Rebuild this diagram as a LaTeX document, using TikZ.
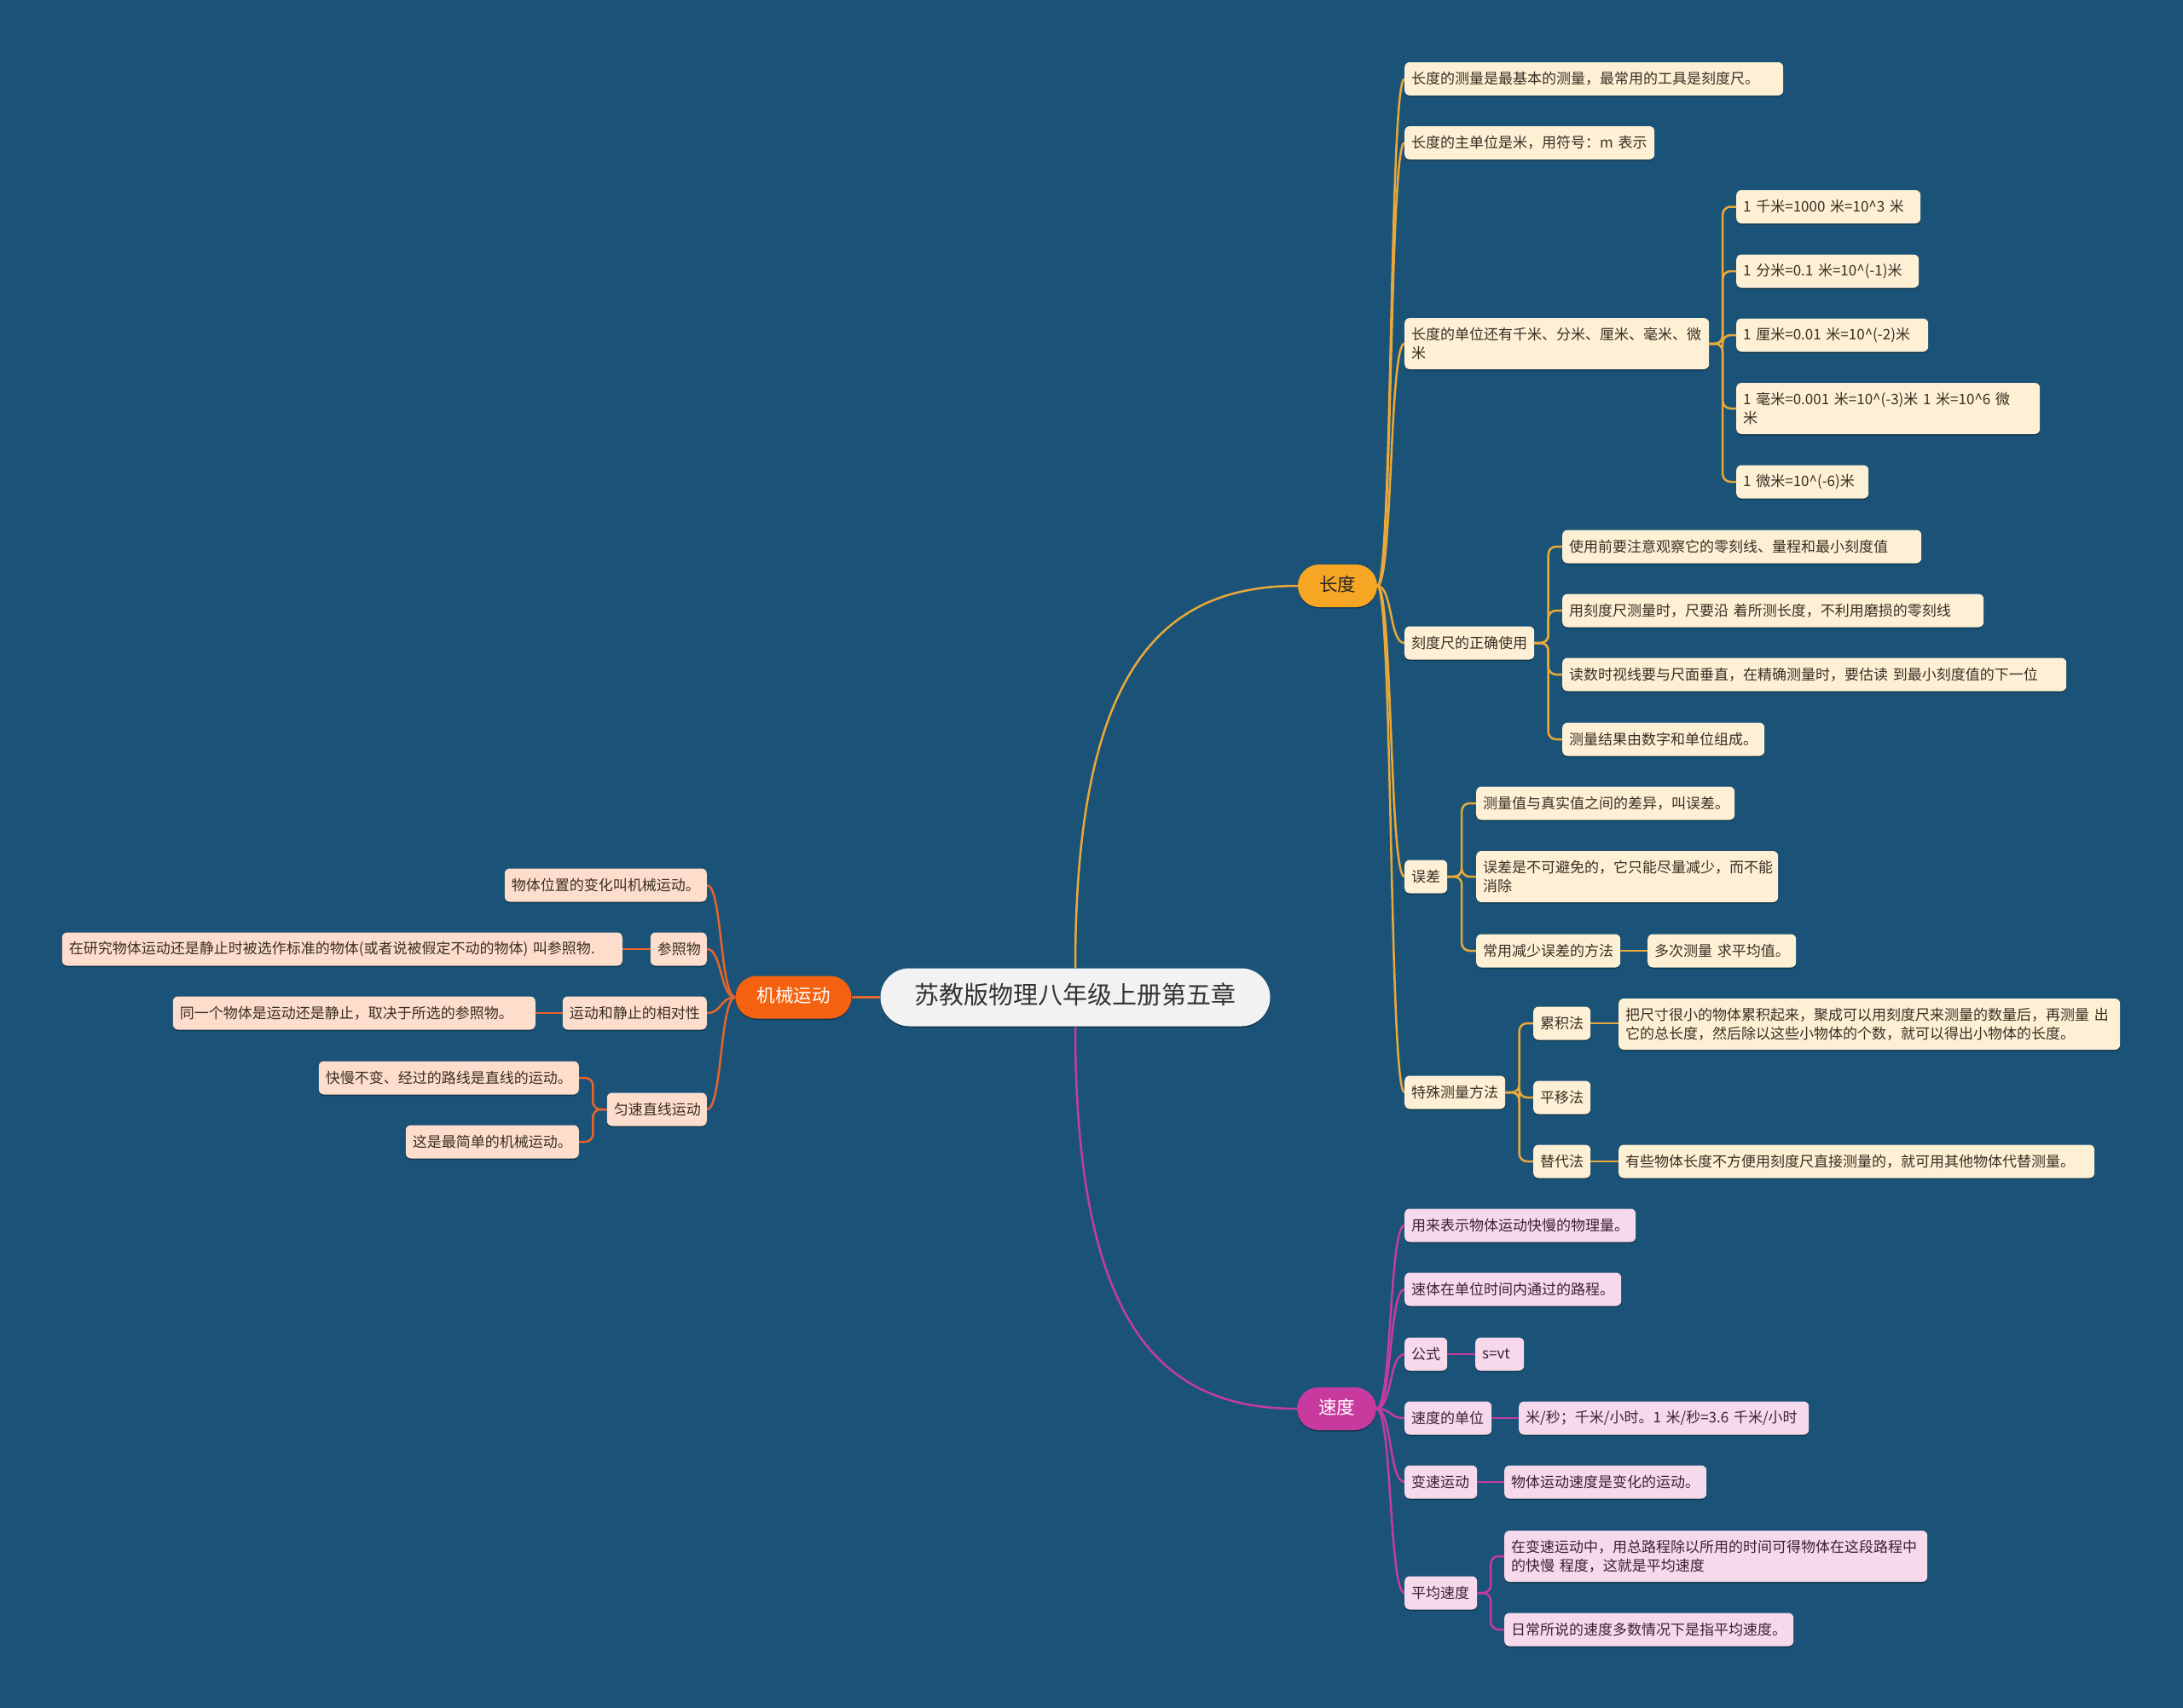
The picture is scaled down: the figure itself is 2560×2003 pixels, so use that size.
\documentclass[tikz,border=0pt]{standalone}
\usepackage{fontspec}
\setmainfont{Noto Sans CJK SC}
\usetikzlibrary{shadows,calc}
\definecolor{bg}{HTML}{1A5377}
\definecolor{cyel}{HTML}{FEF0D5}
\definecolor{cpink}{HTML}{F6D9EB}
\definecolor{cpeach}{HTML}{FDDDCC}
\definecolor{cgray}{HTML}{F2F2F2}
\definecolor{lyel}{HTML}{EAA83A}
\definecolor{lmag}{HTML}{C53CA0}
\definecolor{lor}{HTML}{E5652D}
\definecolor{nyel}{HTML}{F6A623}
\definecolor{nmag}{HTML}{C93A9E}
\definecolor{nor}{HTML}{F5620F}
\definecolor{ctxt}{HTML}{3A2E22}
\definecolor{ptxt}{HTML}{3A2233}
\newcommand\smallfs{\fontsize{17}{21.7}\selectfont}
\newcommand\midfs{\fontsize{21.5}{26}\selectfont}
\newcommand\bigfs{\fontsize{29}{34}\selectfont}
\newcommand\ca{\textasciicircum}
\pgfdeclarelayer{bottom}
\pgfdeclarelayer{lines}
\pgfsetlayers{bottom,lines,main}
\tikzset{
  shd/.style={drop shadow={shadow xshift=0pt,shadow yshift=-1.5pt,opacity=.35,fill=black}},
  box/.style={shd, rounded corners=6pt, inner xsep=8pt, inner ysep=4pt,
    minimum height=39pt, font=\smallfs, align=left},
  two/.style={minimum height=60pt},
  w/.style={text width=#1pt},
  ybox/.style={box, fill=cyel, text=ctxt},
  pbox/.style={box, fill=cpink, text=ptxt},
  obox/.style={box, fill=cpeach, text=ctxt},
  branch/.style={shd, rounded corners=25pt, minimum height=50pt, inner xsep=25pt,
    inner ysep=0pt, font=\midfs, text height=16pt, text depth=4pt},
  rootbox/.style={shd, fill=cgray, rounded corners=34pt, minimum height=68pt,
    inner xsep=40pt, inner ysep=0pt, font=\bigfs, text=black!80, text height=22pt, text depth=6pt},
  yline/.style={draw=lyel, line width=2.5pt},
  mline/.style={draw=lmag, line width=2.5pt},
  oline/.style={draw=lor, line width=2.5pt},
}
\newcommand\elbowR[3]{\draw[#1, rounded corners=9pt] (#2.east) -| ($(#2.east)!.5!(#3.west)$) |- (#3.west);}
\newcommand\elbowL[3]{\draw[#1, rounded corners=9pt] (#2.west) -| ($(#2.west)!.5!(#3.east)$) |- (#3.east);}
\begin{document}
\begin{tikzpicture}[x=1pt,y=-1pt]
\useasboundingbox (0,0) rectangle (2560,2003);
\begin{pgfonlayer}{bottom}
\fill[bg] (0,0) rectangle (2560,2003);
\end{pgfonlayer}

% root and branches
\node[rootbox] (root) at (1261,1169.5) {苏教版物理八年级上册第五章};
\node[branch, fill=nyel, text=black!85] (len) at (1568.5,687) {长度};
\node[branch, fill=nmag, text=white] (spd) at (1567.5,1652) {速度};
\node[branch, fill=nor, text=white] (mech) at (930.5,1169.5) {机械运动};

% length branch
\node[ybox, w=428, anchor=west] (l1) at (1647,92.5) {长度的测量是最基本的测量，最常用的工具是刻度尺。};
\node[ybox, w=277, anchor=west] (l2) at (1647,167.5) {长度的主单位是米，用符号：m~表示};
\node[ybox, two, w=341, anchor=west] (l3) at (1647,403) {长度的单位还有千米、分米、厘米、毫米、微\\米};
\node[ybox, w=200, anchor=west] (l3a) at (2036,242.5) {1~千米=1000~米=10\ca 3~米};
\node[ybox, w=198, anchor=west] (l3b) at (2036,318) {1~分米=0.1~米=10\ca(-1)米};
\node[ybox, w=209, anchor=west] (l3c) at (2036,393) {1~厘米=0.01~米=10\ca(-2)米};
\node[ybox, two, w=340, anchor=west] (l3d) at (2036,479) {1~毫米=0.001~米=10\ca(-3)米~1~米=10\ca 6~微\\米};
\node[ybox, w=139, anchor=west] (l3e) at (2036,565) {1~微米=10\ca(-6)米};
\node[ybox, w=136, anchor=west] (l4) at (1647,754) {刻度尺的正确使用};
\node[ybox, w=405, anchor=west] (l4a) at (1832,641) {使用前要注意观察它的零刻线、量程和最小刻度值};
\node[ybox, w=478, anchor=west] (l4b) at (1832,716) {用刻度尺测量时，尺要沿~着所测长度，不利用磨损的零刻线};
\node[ybox, w=575, anchor=west] (l4c) at (1832,791) {读数时视线要与尺面垂直，在精确测量时，要估读~到最小刻度值的下一位};
\node[ybox, w=221, anchor=west] (l4d) at (1832,867) {测量结果由数字和单位组成。};
\node[ybox, w=34, anchor=west] (l5) at (1647,1028) {误差};
\node[ybox, w=287, anchor=west] (l5a) at (1731,942) {测量值与真实值之间的差异，叫误差。};
\node[ybox, two, w=338, anchor=west] (l5b) at (1731,1028) {误差是不可避免的，它只能尽量减少，而不能\\消除};
\node[ybox, w=153, anchor=west] (l5c) at (1731,1115) {常用减少误差的方法};
\node[ybox, w=158, anchor=west] (l5c1) at (1932,1115) {多次测量~求平均值。};
\node[ybox, w=102, anchor=west] (l6) at (1647,1281) {特殊测量方法};
\node[ybox, w=51, anchor=west] (l6a) at (1798,1200) {累积法};
\node[ybox, two, w=572, anchor=west] (l6a1) at (1898,1201) {把尺寸很小的物体累积起来，聚成可以用刻度尺来测量的数量后，再测量~出\\它的总长度，然后除以这些小物体的个数，就可以得出小物体的长度。};
\node[ybox, w=51, anchor=west] (l6b) at (1798,1287) {平移法};
\node[ybox, w=51, anchor=west] (l6c) at (1798,1362) {替代法};
\node[ybox, w=542, anchor=west] (l6c1) at (1898,1362) {有些物体长度不方便用刻度尺直接测量的，就可用其他物体代替测量。};

% speed branch
\node[pbox, w=255, anchor=west] (s1) at (1647,1437) {用来表示物体运动快慢的物理量。};
\node[pbox, w=238, anchor=west] (s2) at (1647,1512) {速体在单位时间内通过的路程。};
\node[pbox, w=34, anchor=west] (s3) at (1647,1588) {公式};
\node[pbox, w=41, anchor=west] (s3a) at (1730,1588) {s=vt};
\node[pbox, w=86, anchor=west] (s4) at (1647,1663) {速度的单位};
\node[pbox, w=324, anchor=west] (s4a) at (1781,1663) {米/秒；千米/小时。1~米/秒=3.6~千米/小时};
\node[pbox, w=69, anchor=west] (s5) at (1647,1738) {变速运动};
\node[pbox, w=221, anchor=west] (s5a) at (1764,1738) {物体运动速度是变化的运动。};
\node[pbox, w=69, anchor=west] (s6) at (1647,1868) {平均速度};
\node[pbox, two, w=480, anchor=west] (s6a) at (1764,1825) {在变速运动中，用总路程除以所用的时间可得物体在这段路程中\\的快慢~程度，这就是平均速度};
\node[pbox, w=323, anchor=west] (s6b) at (1764,1911) {日常所说的速度多数情况下是指平均速度。};

% mechanical motion branch
\node[obox, w=221, anchor=east] (m1) at (829,1038) {物体位置的变化叫机械运动。};
\node[obox, w=50, anchor=east] (m2) at (829,1113) {参照物};
\node[obox, w=641, anchor=east] (m2a) at (730,1113) {在研究物体运动还是静止时被选作标准的物体(或者说被假定不动的物体)~叫参照物.};
\node[obox, w=153, anchor=east] (m3) at (829,1188) {运动和静止的相对性};
\node[obox, w=409, anchor=east] (m3a) at (628,1188) {同一个物体是运动还是静止，取决于所选的参照物。};
\node[obox, w=101, anchor=east] (m4) at (829,1301) {匀速直线运动};
\node[obox, w=289, anchor=east] (m4a) at (679,1264) {快慢不变、经过的路线是直线的运动。};
\node[obox, w=187, anchor=east] (m4b) at (679,1339) {这是最简单的机械运动。};

\begin{pgfonlayer}{lines}
% connectors from root
\draw[yline] (root.north) .. controls +(0,-350) and +(-160,0) .. (len.west);
\draw[mline] (root.south) .. controls +(0,350) and +(-160,0) .. (spd.west);
\draw[oline] (root.west) -- (mech.east);

% length connectors
\foreach \c in {l1,l2,l3,l4,l5,l6}
  {\draw[yline] (len.east) .. controls +(18,0) and +(-18,0) .. (\c.west);}
\foreach \c in {l3a,l3b,l3c,l3d,l3e} {\elbowR{yline}{l3}{\c}}
\foreach \c in {l4a,l4b,l4c,l4d} {\elbowR{yline}{l4}{\c}}
\foreach \c in {l5a,l5b,l5c} {\elbowR{yline}{l5}{\c}}
\draw[yline] (l5c.east) -- (l5c1.west);
\foreach \c in {l6a,l6b,l6c} {\elbowR{yline}{l6}{\c}}
\draw[yline] (l6a.east) -- (l6a.east -| l6a1.west);
\draw[yline] (l6c.east) -- (l6c1.west);

% speed connectors
\foreach \c in {s1,s2,s3,s4,s5,s6}
  {\draw[mline] (spd.east) .. controls +(18,0) and +(-18,0) .. (\c.west);}
\draw[mline] (s3.east) -- (s3a.west);
\draw[mline] (s4.east) -- (s4a.west);
\draw[mline] (s5.east) -- (s5a.west);
\foreach \c in {s6a,s6b} {\elbowR{mline}{s6}{\c}}

% mechanical connectors
\foreach \c in {m1,m2,m3,m4}
  {\draw[oline] (mech.west) .. controls +(-18,0) and +(18,0) .. (\c.east);}
\draw[oline] (m2.west) -- (m2a.east);
\draw[oline] (m3.west) -- (m3a.east);
\foreach \c in {m4a,m4b} {\elbowL{oline}{m4}{\c}}
\end{pgfonlayer}
\end{tikzpicture}
\end{document}
